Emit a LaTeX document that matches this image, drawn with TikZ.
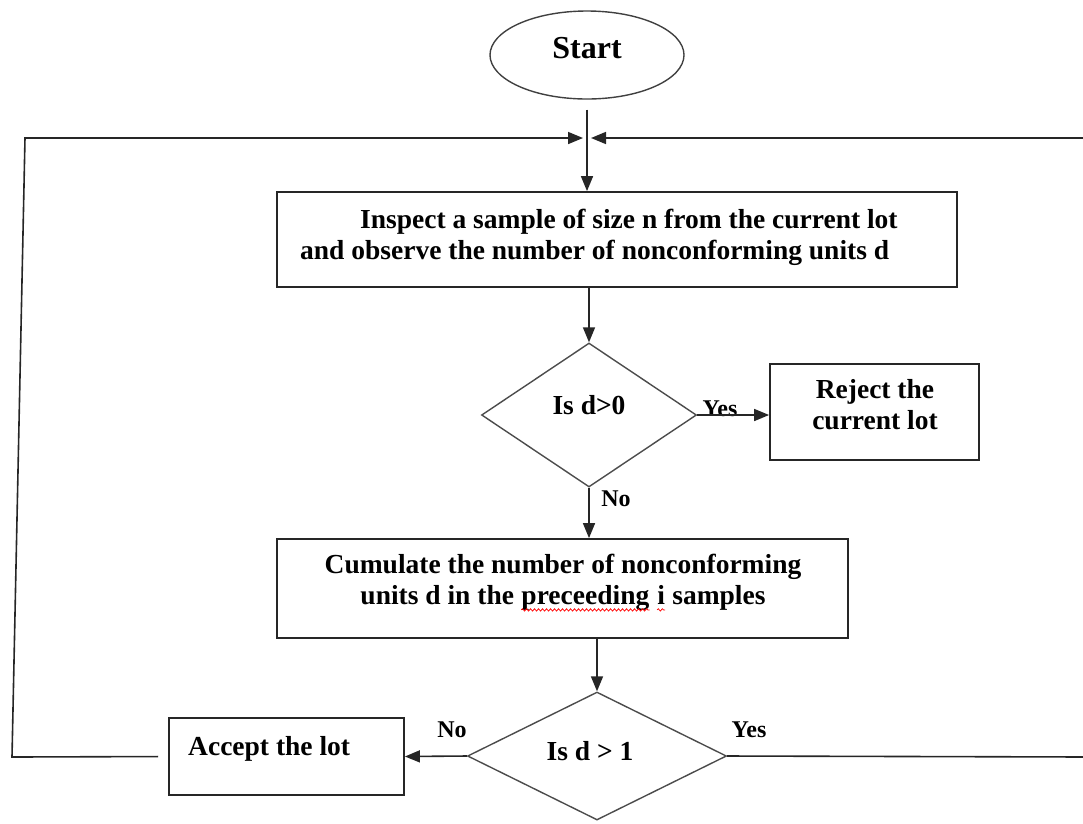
\documentclass[tikz,border=0pt]{standalone}
\usepackage{fontspec}
\setmainfont{Liberation Serif}
\usetikzlibrary{shapes.geometric,arrows.meta,decorations.pathmorphing}
\newcommand\redwave[1]{\tikz[baseline=(w.base)]{\node[inner sep=0pt] (w) {#1};
  \draw[red, line width=0.7pt, decorate, decoration={snake, amplitude=1.2pt, segment length=4pt}]
    ([yshift=-5pt]w.base west) -- ([yshift=-5pt]w.base east);}}
\tikzset{
  conn/.style={line width=1.6pt, draw=black!85},
  arr/.style={conn, -{Triangle[length=15pt,width=12pt]}},
  boxst/.style={draw=black!85, line width=1.8pt, rectangle, inner sep=0pt},
  diast/.style={draw=black!70, line width=1.4pt, diamond, inner sep=0pt},
  txt/.style={font=\bfseries\fontsize{27.5}{31}\selectfont, inner sep=0pt},
  lab/.style={font=\bfseries\fontsize{24}{28}\selectfont, inner sep=0pt},
}
\begin{document}
\begin{tikzpicture}[x=1pt,y=-1pt]
\useasboundingbox (0,0) rectangle (1083,823);
\clip (0,0) rectangle (1083,823);

% Start
\node[draw=black!75, line width=1.4pt, ellipse, minimum width=194pt, minimum height=88pt, inner sep=0pt,
      font=\bfseries\fontsize{32}{36}\selectfont, text height=21pt, text depth=15pt] (start) at (587,55) {Start};

% Box 1
\node[boxst, minimum width=680pt, minimum height=95pt] (b1) at (617,239.5) {};
\node[txt, anchor=west, align=left] (b1t) at (300,237)
  {\hspace*{60pt}Inspect a sample of size n from the current lot\\and observe the number of nonconforming units d};

% Decision 1
\node[diast, minimum width=215pt, minimum height=144pt] (d1) at (589,415) {};
\node[txt] (d1t) at (589,405) {Is d>0};

% Reject
\node[boxst, minimum width=209pt, minimum height=96pt] (rej) at (874.5,412) {};
\node[txt, align=center] (rejt) at (875,405) {Reject the\\current lot};

% Box 2
\node[boxst, minimum width=571pt, minimum height=99pt] (b2) at (562.5,588.5) {};
\node[txt, align=center] (b2t) at (563,583)
  {Cumulate the number of nonconforming\\units d in the \redwave{preceeding} \redwave{i} samples};

% Decision 2
\node[diast, minimum width=259pt, minimum height=128pt] (d2) at (597,756) {};
\node[txt] (d2t) at (590,751) {Is d > 1};

% Accept
\node[boxst, minimum width=235pt, minimum height=77pt] (acc) at (286.5,756.5) {};
\node[txt, anchor=west] (acct) at (188,749) {Accept the lot};

% Labels
\node[lab] (yes1) at (720,409) {Yes};
\node[lab] (no1) at (616,499) {No};
\node[lab] (no2) at (452,730) {No};
\node[lab] (yes2) at (749,730) {Yes};

% Loop coordinates
\coordinate (m) at (587,138);
\coordinate (lb) at (12,757);
\coordinate (lt) at (25,138);
\coordinate (rb) at (1090,757);
\coordinate (rt) at (1090,138);

% Connectors
\draw[arr, shorten <=10pt] (start.south) -- (start.south |- b1.north);
\draw[arr] (d1.north |- b1.south) -- (d1.north);
\draw[arr] (d1.east) -- (d1.east -| rej.west);
\draw[arr] (d1.south) -- (d1.south |- b2.north);
\draw[arr] (d2.north |- b2.south) -- (d2.north);
\draw[arr] (d2.west) -- (acc.east);
\draw[arr, shorten <=10pt, shorten >=4pt] (acc.west) -- (lb) -- (lt) -- (m);
\draw[arr, shorten >=4pt] (d2.east) -- (rb) -- (rt) -- (m);
\end{tikzpicture}
\end{document}
